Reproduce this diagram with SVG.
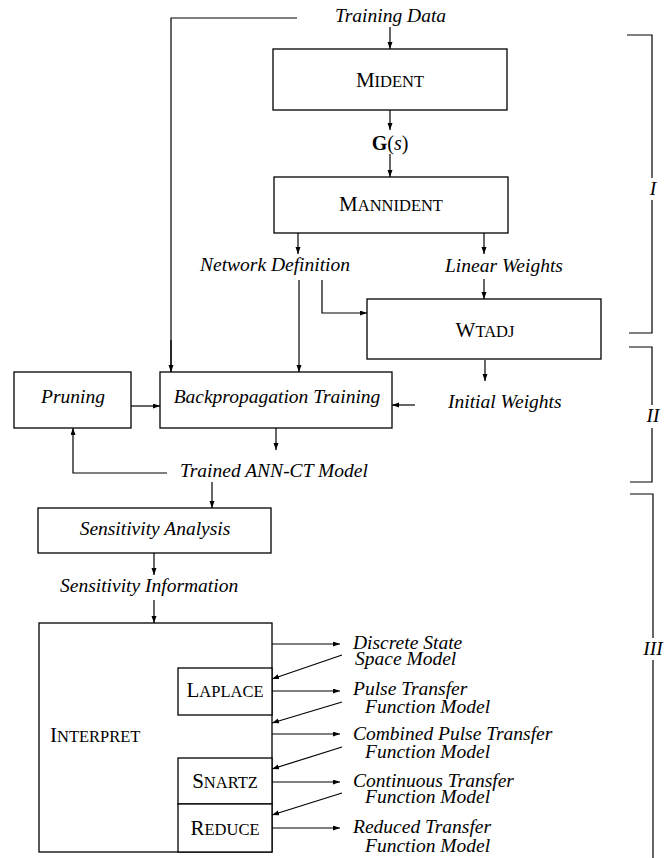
<svg xmlns="http://www.w3.org/2000/svg" width="666" height="858" viewBox="0 0 666 858">
<style>
.box{fill:#fff;stroke:#000;stroke-width:1.3}
.ln{fill:none;stroke:#000;stroke-width:1.2}
.arr{marker-end:url(#ah)}
text{font-family:"Liberation Serif","Times New Roman",serif;fill:#000}
.it{font-style:italic;font-size:19.5px}
.sc{font-size:16.5px}
.cap{font-size:21px}
</style>
<defs>
<marker id="ah" markerUnits="userSpaceOnUse" markerWidth="8" markerHeight="6" refX="7" refY="2.5" orient="auto">
<path d="M0,0 L7,2.5 L0,5 z" fill="#000"/>
</marker>
</defs>
<rect width="666" height="858" fill="#fff"/>

<g id="connectors">
<!-- training data -->
<path class="ln" d="M297,18 H171 V372"/>
<path class="ln arr" d="M171,340 V372"/>
<path class="ln arr" d="M390,27 V49"/>
<path class="ln arr" d="M390,110 V130"/>
<path class="ln arr" d="M390,154 V177"/>
<!-- mannident outputs -->
<path class="ln arr" d="M298,233 V254"/>
<path class="ln arr" d="M484,233 V254"/>
<path class="ln arr" d="M299,280 V372"/>
<path class="ln arr" d="M322,280 V313 H367"/>
<path class="ln arr" d="M484,279 V299"/>
<!-- wtadj out -->
<path class="ln arr" d="M485,360 V381"/>
<path class="ln arr" d="M415,405 H392"/>
<!-- pruning -->
<path class="ln arr" d="M131,406 H160"/>
<path class="ln arr" d="M276,428 V450"/>
<path class="ln arr" d="M167,473 H73 V428"/>
<path class="ln arr" d="M212,482 V508"/>
<!-- sensitivity -->
<path class="ln arr" d="M154,553 V575"/>
<path class="ln arr" d="M154,600 V623"/>
<!-- interpret outputs -->
<path class="ln arr" d="M272,644 H340"/>
<path class="ln arr" d="M272,691 H340"/>
<path class="ln arr" d="M272,734 H340"/>
<path class="ln arr" d="M272,782 H340"/>
<path class="ln arr" d="M272,828 H340"/>
<path class="ln arr" d="M342,655 L272,679"/>
<path class="ln arr" d="M342,702 L272,723"/>
<path class="ln arr" d="M342,747 L272,769"/>
<path class="ln arr" d="M342,793 L272,815"/>
</g>

<g id="training-data"><text class="it" x="335" y="22">Training Data</text></g>
<g id="mident"><rect class="box" x="273" y="49" width="234" height="61"/><text class="sc" x="390" y="87" text-anchor="middle"><tspan class="cap">M</tspan>IDENT</text></g>
<g id="gs"><text x="390" y="150" text-anchor="middle" font-size="20"><tspan font-weight="bold">G</tspan>(<tspan font-style="italic">s</tspan>)</text></g>
<g id="mannident"><rect class="box" x="274" y="177" width="234" height="56"/><text class="sc" x="391" y="211" text-anchor="middle"><tspan class="cap">M</tspan>ANNIDENT</text></g>
<g id="network-definition"><text class="it" x="200" y="271">Network Definition</text></g>
<g id="linear-weights"><text class="it" x="445" y="272">Linear Weights</text></g>
<g id="wtadj"><rect class="box" x="367" y="299" width="234" height="60"/><text class="sc" x="485" y="337" text-anchor="middle"><tspan class="cap">W</tspan>TADJ</text></g>
<g id="initial-weights"><text class="it" x="448" y="408">Initial Weights</text></g>
<g id="pruning"><rect class="box" x="14" y="372" width="117" height="56"/><text class="it" x="73" y="403" text-anchor="middle">Pruning</text></g>
<g id="backprop"><rect class="box" x="160" y="372" width="232" height="56"/><text class="it" x="277" y="403" text-anchor="middle">Backpropagation Training</text></g>
<g id="trained-model"><text class="it" x="180" y="477">Trained ANN-CT Model</text></g>
<g id="sensitivity-analysis"><rect class="box" x="38" y="508" width="233" height="45"/><text class="it" x="155" y="535" text-anchor="middle">Sensitivity Analysis</text></g>
<g id="sensitivity-information"><text class="it" x="60" y="592">Sensitivity Information</text></g>
<g id="interpret"><rect class="box" x="39" y="623" width="233" height="229"/><text class="sc" x="50" y="742"><tspan class="cap">I</tspan>NTERPRET</text></g>
<g id="laplace"><rect class="box" x="178" y="668" width="94" height="47"/><text class="sc" x="225" y="697" text-anchor="middle"><tspan class="cap">L</tspan>APLACE</text></g>
<g id="snartz"><rect class="box" x="178" y="758" width="94" height="46"/><text class="sc" x="225" y="788" text-anchor="middle"><tspan class="cap">S</tspan>NARTZ</text></g>
<g id="reduce"><rect class="box" x="178" y="804" width="94" height="48"/><text class="sc" x="225" y="835" text-anchor="middle"><tspan class="cap">R</tspan>EDUCE</text></g>

<g id="outputs">
<text class="it" x="353" y="649">Discrete State</text>
<text class="it" x="355" y="665">Space Model</text>
<text class="it" x="353" y="695">Pulse Transfer</text>
<text class="it" x="365" y="713">Function Model</text>
<text class="it" x="353" y="740">Combined Pulse Transfer</text>
<text class="it" x="365" y="758">Function Model</text>
<text class="it" x="353" y="787">Continuous Transfer</text>
<text class="it" x="365" y="803">Function Model</text>
<text class="it" x="353" y="833">Reduced Transfer</text>
<text class="it" x="365" y="852">Function Model</text>
</g>

<g id="brackets">
<path class="ln" d="M627,35 H652 V178 M652,200 V333 H629"/>
<text class="it" x="653" y="195" text-anchor="middle">I</text>
<path class="ln" d="M629,347 H652 V405 M652,428 V482 H630"/>
<text class="it" x="653" y="422" text-anchor="middle">II</text>
<path class="ln" d="M630,494 H653 V638 M653,660 V858"/>
<text class="it" x="653" y="655" text-anchor="middle">III</text>
</g>
</svg>
